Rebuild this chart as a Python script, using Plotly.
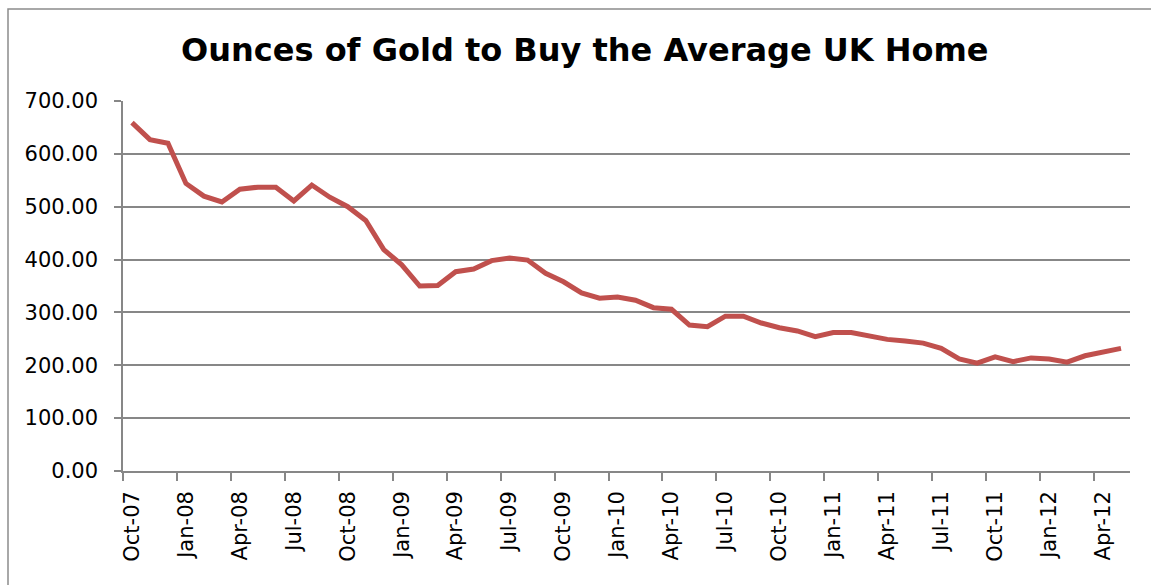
import plotly.graph_objects as go

# Monthly series, Oct-07 .. May-12
months = [
    "Oct-07", "Nov-07", "Dec-07", "Jan-08", "Feb-08", "Mar-08", "Apr-08", "May-08",
    "Jun-08", "Jul-08", "Aug-08", "Sep-08", "Oct-08", "Nov-08", "Dec-08", "Jan-09",
    "Feb-09", "Mar-09", "Apr-09", "May-09", "Jun-09", "Jul-09", "Aug-09", "Sep-09",
    "Oct-09", "Nov-09", "Dec-09", "Jan-10", "Feb-10", "Mar-10", "Apr-10", "May-10",
    "Jun-10", "Jul-10", "Aug-10", "Sep-10", "Oct-10", "Nov-10", "Dec-10", "Jan-11",
    "Feb-11", "Mar-11", "Apr-11", "May-11", "Jun-11", "Jul-11", "Aug-11", "Sep-11",
    "Oct-11", "Nov-11", "Dec-11", "Jan-12", "Feb-12", "Mar-12", "Apr-12", "May-12",
]
ounces = [
    659, 627, 620, 544, 520, 509, 533, 537,
    537, 511, 541, 518, 500, 474, 419, 390,
    350, 351, 377, 382, 398, 403, 399, 374,
    358, 337, 327, 329, 323, 309, 306, 276,
    273, 293, 293, 280, 271, 265, 254, 262,
    262, 255, 249, 246, 242, 232, 212, 204,
    216, 207, 214, 212, 206, 218, 224, 232,
]
y_ticks = [0, 100, 200, 300, 400, 500, 600, 700]
title_text = "Ounces of Gold to Buy the Average UK Home"

idx = list(range(len(months)))
label_idx = idx[::3]
labels = [months[i] for i in label_idx]

W, H = 1151, 585
ML, MR, MT, MB = 123, 21, 101, 114
PW, PH = W - ML - MR, H - MT - MB


def px(xp):
    return (xp - ML) / PW


def py(yp):
    return (H - MB - yp) / PH


GRID = "#878787"
FONT = "DejaVu Sans"

fig = go.Figure()
fig.add_trace(go.Scatter(
    x=idx, y=ounces, mode="lines",
    line=dict(color="#C0504D", width=5),
    hoverinfo="skip", showlegend=False,
))

fig.update_layout(
    width=W, height=H,
    margin=dict(l=ML, r=MR, t=MT, b=MB, pad=0),
    paper_bgcolor="white", plot_bgcolor="white",
    showlegend=False,
    xaxis=dict(
        range=[-0.5, len(months) - 0.5],
        tickmode="array", tickvals=label_idx, ticktext=labels,
        tickangle=-90, ticks="", showgrid=False,
        showline=True, linecolor=GRID, linewidth=1.5,
        tickfont=dict(family=FONT, size=21, color="black"),
        ticklabelstandoff=10,
        minor=dict(tickmode="linear", tick0=-0.5, dtick=3, ticks="outside",
                   ticklen=8, tickwidth=1.5, tickcolor=GRID, showgrid=False),
        zeroline=False, fixedrange=True,
    ),
    yaxis=dict(
        range=[0, 700], tickmode="array", tickvals=y_ticks,
        tickformat=".2f",
        ticks="outside", ticklen=7, tickwidth=1.5, tickcolor=GRID,
        showgrid=True, gridcolor=GRID, gridwidth=1.5,
        showline=True, linecolor=GRID, linewidth=1.5,
        tickfont=dict(family=FONT, size=21, color="black"),
        ticklabelstandoff=12,
        zeroline=False, fixedrange=True,
    ),
    shapes=[dict(
        type="rect", xref="paper", yref="paper",
        x0=px(8), x1=px(1170), y0=py(9), y1=py(600),
        line=dict(color="#8c8c8c", width=1.5), fillcolor="rgba(0,0,0,0)",
        layer="above",
    )],
    annotations=[dict(
        text=title_text, xref="paper", yref="paper",
        x=px(585), y=py(50), xanchor="center", yanchor="middle",
        showarrow=False,
        font=dict(family="DejaVu Sans", size=32, color="black", weight="bold"),
    )],
)

fig.write_html("out.html", config={"displayModeBar": False})
